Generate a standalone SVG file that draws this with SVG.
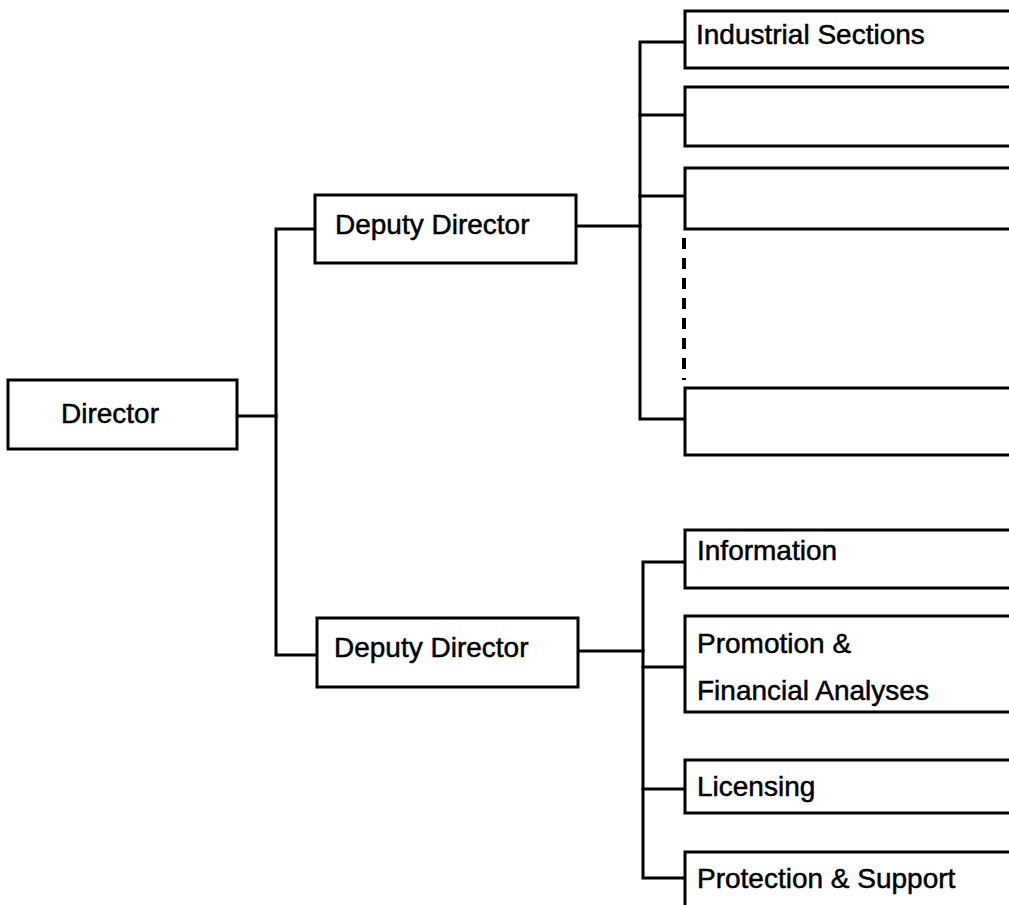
<svg xmlns="http://www.w3.org/2000/svg" width="1009" height="905" viewBox="0 0 1009 905">
  <style>
    .box { fill: #fff; stroke: #000; stroke-width: 3; }
    .ln { fill: none; stroke: #000; stroke-width: 3; stroke-linecap: square; }
    .dash { fill: none; stroke: #000; stroke-width: 4; stroke-dasharray: 11 9; }
    .lbl { font-family: "Liberation Sans", Arial, sans-serif; font-size: 28px; fill: #000; stroke: #000; stroke-width: 0.5; }
  </style>
  <rect width="1009" height="905" fill="#fff"/>

  <!-- connectors -->
  <g id="connectors">
    <!-- director to deputies -->
    <path class="ln" d="M237 416 H276"/>
    <path class="ln" d="M315 229 H276 V655 H317"/>
    <!-- upper deputy to sections -->
    <path class="ln" d="M576 226 H640"/>
    <path class="ln" d="M685 42 H640 V419 H685"/>
    <path class="ln" d="M640 115 H685"/>
    <path class="ln" d="M640 196 H685"/>
    <path class="dash" d="M684 238 V380"/>
    <!-- lower deputy to units -->
    <path class="ln" d="M578 651 H643"/>
    <path class="ln" d="M685 562 H643 V878 H685"/>
    <path class="ln" d="M643 667 H685"/>
    <path class="ln" d="M643 789 H685"/>
  </g>

  <g id="director">
    <rect class="box" x="8" y="380" width="229" height="69"/>
    <text class="lbl" x="61" y="423">Director</text>
  </g>

  <g id="deputy-director-1">
    <rect class="box" x="315" y="195" width="261" height="68"/>
    <text class="lbl" x="335" y="234">Deputy Director</text>
  </g>

  <g id="deputy-director-2">
    <rect class="box" x="317" y="618" width="261" height="69"/>
    <text class="lbl" x="334" y="657">Deputy Director</text>
  </g>

  <g id="industrial-sections">
    <rect class="box" x="685" y="11" width="340" height="57"/>
    <text class="lbl" x="696" y="44">Industrial Sections</text>
  </g>

  <g id="section-2">
    <rect class="box" x="685" y="87" width="340" height="59"/>
  </g>

  <g id="section-3">
    <rect class="box" x="685" y="168" width="340" height="61"/>
  </g>

  <g id="section-n">
    <rect class="box" x="685" y="388" width="340" height="67"/>
  </g>

  <g id="information">
    <rect class="box" x="685" y="530" width="340" height="58"/>
    <text class="lbl" x="697" y="560">Information</text>
  </g>

  <g id="promotion">
    <rect class="box" x="685" y="616" width="340" height="96"/>
    <text class="lbl" x="697" y="653">Promotion &amp;</text>
    <text class="lbl" x="697" y="700">Financial Analyses</text>
  </g>

  <g id="licensing">
    <rect class="box" x="685" y="760" width="340" height="53"/>
    <text class="lbl" x="697" y="796">Licensing</text>
  </g>

  <g id="protection">
    <rect class="box" x="685" y="852" width="340" height="80"/>
    <text class="lbl" x="697" y="888">Protection &amp; Support</text>
  </g>
</svg>
